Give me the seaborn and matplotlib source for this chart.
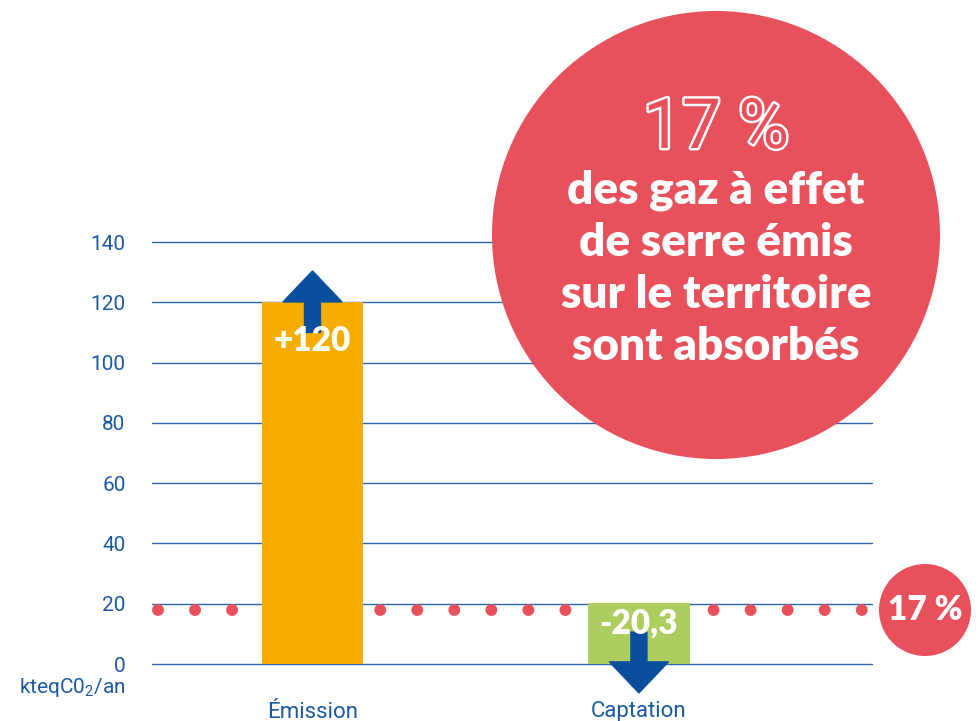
import matplotlib
matplotlib.use("Agg")
import matplotlib.pyplot as plt
import matplotlib.patches as mpatches
import matplotlib.patheffects as pe
from matplotlib.transforms import IdentityTransform
import seaborn as sns
import pandas as pd

# ---- data ----
categories = ["Émission", "Captation"]
values = [120, -20.3]
bar_colors = ["#F7AD00", "#AECD5F"]
y_ticks = [0, 20, 40, 60, 80, 100, 120, 140]
ref_line = 18
share_label = "17 %"
bubble_lines = ["des gaz à effet", "de serre émis", "sur le territoire", "sont absorbés"]
unit_label = "kteqC0$_2$/an"

BLUE = "#1B5AA3"
ARROW = "#0A4F9E"
RED = "#E8505B"

sns.set_theme(style="white")
plt.rcParams["font.family"] = ["Roboto", "DejaVu Sans"]
plt.rcParams["mathtext.fontset"] = "custom"
plt.rcParams["mathtext.rm"] = "Roboto"

W, H = 980, 721
fig = plt.figure(figsize=(W / 100, H / 100), dpi=100)
ax = fig.add_axes([152 / W, (H - 664) / H, 720 / W, (664 - 242) / H])

df = pd.DataFrame({"cat": categories, "val": [abs(v) for v in values]})
sns.barplot(data=df, x="cat", y="val", hue="cat", palette=bar_colors,
            width=0.31, legend=False, ax=ax, saturation=1, zorder=1, linewidth=0)

ax.set_xlim(-0.4916, 1.714)
ax.set_ylim(0, 140)
ax.set_yticks(y_ticks)
ax.set_yticklabels([str(t) for t in y_ticks])
ax.set_xlabel("")
ax.set_ylabel("")
for s in ax.spines.values():
    s.set_visible(False)
ax.set_axisbelow(True)
ax.yaxis.grid(True, color="#2A66AD", linewidth=1.0, zorder=0.5)
for gl in ax.get_ygridlines():
    gl.set_clip_on(False)
ax.xaxis.grid(False)
ax.tick_params(axis="y", length=0, pad=19, labelsize=15, labelcolor=BLUE)
ax.tick_params(axis="x", length=0, pad=27, labelsize=16, labelcolor=BLUE)

# dotted reference line
ax.axhline(ref_line, color=RED, linewidth=8.6, linestyle=(2.6, (0.001, 3.1)),
           dash_capstyle="round", zorder=0.8)

# unit label
ax.text(-26 / 720, -0.055, unit_label, transform=ax.transAxes, ha="right", va="center",
        fontsize=15, color=BLUE)

# arrows and value labels
lab_font = ["Lato", "DejaVu Sans"]
for i, v in enumerate(values):
    h = abs(v)
    if v > 0:
        arr = mpatches.FancyArrow(i, h - 10, 0, 20.4, width=0.049, head_width=0.181,
                                  head_length=10.3, length_includes_head=True,
                                  color=ARROW, zorder=3, clip_on=False)
        ax.add_patch(arr)
        ax.text(i, h - 13, f"+{v:g}", ha="center", va="center", color="white",
                fontsize=24, fontweight="heavy", family=lab_font, zorder=4)
    else:
        arr = mpatches.FancyArrow(i, 10.6, 0, -20.2, width=0.049, head_width=0.181,
                                  head_length=10.3, length_includes_head=True,
                                  color=ARROW, zorder=3, clip_on=False)
        ax.add_patch(arr)
        ax.text(i, h - 6.8, f"{v:g}".replace(".", ","), ha="center", va="center",
                color="white", fontsize=24, fontweight="heavy",
                family=lab_font, zorder=4)

# big bubble
big = mpatches.Circle((716, H - 235), 224, transform=IdentityTransform(),
                      facecolor=RED, edgecolor="none", zorder=5)
fig.add_artist(big)
t = fig.text(716 / W, (H - 129) / H, share_label, ha="center", va="center",
             fontsize=50, color=RED, family=["Roboto", "DejaVu Sans"], zorder=6)
t.set_path_effects([pe.Stroke(linewidth=3.5, foreground="white"), pe.Normal()])
for k, line in enumerate(bubble_lines):
    fig.text(716 / W, (H - (190 + 52 * k)) / H, line, ha="center", va="center",
             fontsize=33, fontweight="heavy", color="white",
             family=lab_font, zorder=6)

# small bubble
small = mpatches.Circle((925, H - 610), 46, transform=IdentityTransform(),
                        facecolor=RED, edgecolor="none", zorder=5)
fig.add_artist(small)
fig.text(925 / W, (H - 610) / H, share_label, ha="center", va="center",
         fontsize=24, fontweight="heavy", color="white",
         family=lab_font, zorder=6)

fig.savefig("out.png", dpi=100)
